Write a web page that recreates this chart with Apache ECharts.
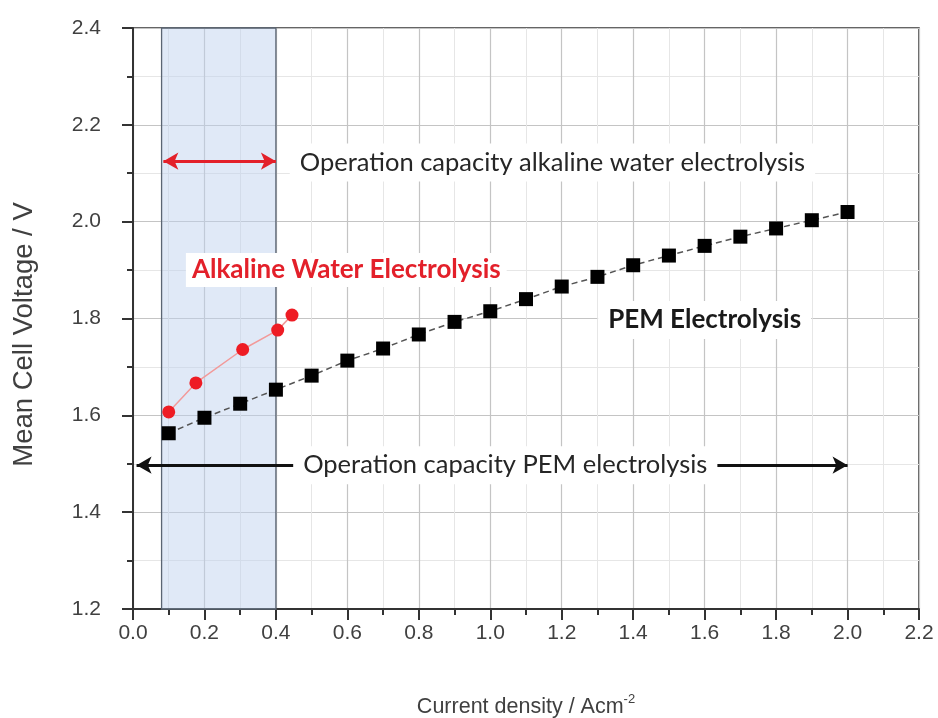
<!DOCTYPE html>
<html>
<head>
<meta charset="utf-8">
<script src="https://cdn.jsdelivr.net/npm/echarts@6/dist/echarts.min.js"></script>
<style>
html,body{margin:0;padding:0;background:#fff;}
#chart{width:938px;height:718px;}
</style>
</head>
<body>
<div id="chart"></div>
<script>
// ---- data ----
const pemX = [0.1,0.2,0.3,0.4,0.5,0.6,0.7,0.8,0.9,1.0,1.1,1.2,1.3,1.4,1.5,1.6,1.7,1.8,1.9,2.0];
const pemY = [1.563,1.595,1.624,1.653,1.682,1.713,1.738,1.767,1.793,1.815,1.840,1.866,1.886,1.910,1.930,1.950,1.969,1.986,2.003,2.020];
const alkX = [0.10,0.176,0.307,0.405,0.445];
const alkY = [1.607,1.667,1.736,1.776,1.807];

const xTicks = {min:0, max:2.2, step:0.2};
const yTicks = {min:1.2, max:2.4, step:0.2};

// shaded operating range of alkaline electrolysis (x range)
const alkRange = [0.08, 0.4];
// arrows: [x1, x2, y]
const alkArrow = [0.085, 0.4, 2.125];
const pemArrow = [0.01, 2.0, 1.497];

// annotation texts: [x, y, text]
const noteAlkCap = [1.174, 2.122, 'Operation capacity alkaline water electrolysis'];
const notePemCap = [1.042, 1.497, 'Operation capacity PEM electrolysis'];
const noteAlk = [0.597, 1.9, 'Alkaline Water Electrolysis'];
const notePem = [1.60, 1.797, 'PEM Electrolysis'];

const annFont = 'Lato, "Open Sans", sans-serif';
const axisFont = '"Liberation Sans", Arial, sans-serif';

const chart = echarts.init(document.getElementById('chart'));

function note(n, style) {
  return {
    value: [n[0], n[1]],
    name: n[2],
    label: Object.assign({
      show: true,
      position: 'inside',
      formatter: n[2],
      fontFamily: annFont,
      fontSize: 25.5,
      color: '#262626'
    }, style)
  };
}

const option = {
  animation: false,
  backgroundColor: '#ffffff',
  grid: {
    left: 133, right: 19, top: 28, bottom: 109,
    containLabel: false, outerBoundsMode: 'none',
    show: true, borderColor: '#333', borderWidth: 1.5, backgroundColor: 'transparent'
  },
  xAxis: {
    type: 'value',
    min: xTicks.min, max: xTicks.max, interval: xTicks.step,
    name: 'Current density / Acm{sup|-2}',
    nameLocation: 'middle',
    nameGap: 84,
    nameTextStyle: {
      fontFamily: axisFont, fontSize: 21.5, color: '#404040',
      rich: { sup: { fontFamily: axisFont, fontSize: 13, color: '#404040', padding: [0,0,15,0] } }
    },
    axisLine: { show: true, onZero: false, lineStyle: { color: '#333', width: 2 } },
    axisTick: { show: true, inside: false, length: 11, lineStyle: { color: '#333', width: 2 } },
    minorTick: { show: true, splitNumber: 2, length: 6, lineStyle: { color: '#333', width: 2 } },
    splitLine: { show: true, lineStyle: { color: '#c4c4c4', width: 1.2 } },
    minorSplitLine: { show: true, lineStyle: { color: '#e6e6e6', width: 1 } },
    axisLabel: {
      fontFamily: axisFont, fontSize: 21, color: '#404040', margin: 14,
      formatter: v => v.toFixed(1)
    }
  },
  yAxis: {
    type: 'value',
    min: yTicks.min, max: yTicks.max, interval: yTicks.step,
    name: 'Mean Cell Voltage / V',
    nameLocation: 'middle',
    nameGap: 95,
    nameTextStyle: { fontFamily: axisFont, fontSize: 27.5, color: '#404040', padding: [0, 32, 0, 0] },
    axisLine: { show: true, onZero: false, lineStyle: { color: '#333', width: 2 } },
    axisTick: { show: true, inside: false, length: 11, lineStyle: { color: '#333', width: 2 } },
    minorTick: { show: true, splitNumber: 2, length: 6, lineStyle: { color: '#333', width: 2 } },
    splitLine: { show: true, lineStyle: { color: '#c4c4c4', width: 1.2 } },
    minorSplitLine: { show: true, lineStyle: { color: '#e6e6e6', width: 1 } },
    axisLabel: {
      fontFamily: axisFont, fontSize: 21, color: '#404040', margin: 32,
      formatter: v => v.toFixed(1)
    }
  },
  series: [
    // white box behind the red label (gridlines hidden), tinted later by the shade
    {
      type: 'scatter', z: 2, silent: true,
      symbolSize: 1, itemStyle: { color: 'rgba(0,0,0,0)', opacity: 1 },
      data: [ note(noteAlk, { fontWeight: 'bold', fontSize: 26, color: 'rgba(0,0,0,0)', backgroundColor: '#fff', padding: [4, 6] }) ]
    },
    // shaded range
    {
      type: 'line', z: 3, silent: true, data: [],
      markArea: {
        silent: true,
        itemStyle: { color: 'rgba(190,208,238,0.48)', borderColor: '#5b6573', borderWidth: 1.3 },
        data: [[ { xAxis: alkRange[0] }, { xAxis: alkRange[1] } ]]
      }
    },
    // arrows
    {
      type: 'line', z: 4, silent: true, data: [],
      markLine: {
        silent: true,
        symbol: ['arrow', 'arrow'],
        symbolSize: [13, 15],
        label: { show: false },
        data: [
          [ { coord: [alkArrow[0], alkArrow[2]], lineStyle: { color: '#e3202a', width: 3, type: 'solid' } },
            { coord: [alkArrow[1], alkArrow[2]] } ],
          [ { coord: [pemArrow[0], pemArrow[2]], lineStyle: { color: '#111', width: 3, type: 'solid' } },
            { coord: [pemArrow[1], pemArrow[2]] } ]
        ]
      }
    },
    // annotation texts
    {
      type: 'scatter', z: 5, silent: true,
      symbolSize: 1, itemStyle: { color: 'rgba(0,0,0,0)', opacity: 1 },
      data: [
        note(noteAlkCap, { backgroundColor: '#fff', padding: [6, 10] }),
        note(notePemCap, { backgroundColor: '#fff', padding: [6, 10] }),
        note(noteAlk, { fontWeight: 'bold', fontSize: 26, color: '#e3202a' }),
        note(notePem, { fontWeight: 'bold', fontSize: 26, color: '#1a1a1a', backgroundColor: '#fff', padding: [6, 10] })
      ]
    },
    // PEM data
    {
      name: 'PEM Electrolysis', type: 'line', z: 6,
      data: pemX.map((x, i) => [x, pemY[i]]),
      symbol: 'rect', symbolSize: 14,
      itemStyle: { color: '#000' },
      lineStyle: { color: '#555', width: 1.5, type: [6, 4] }
    },
    // Alkaline data
    {
      name: 'Alkaline Water Electrolysis', type: 'line', z: 7,
      data: alkX.map((x, i) => [x, alkY[i]]),
      symbol: 'circle', symbolSize: 13,
      itemStyle: { color: '#ee1c24' },
      lineStyle: { color: '#f29a9a', width: 1.5 }
    }
  ]
};
chart.setOption(option);
</script>
</body>
</html>
